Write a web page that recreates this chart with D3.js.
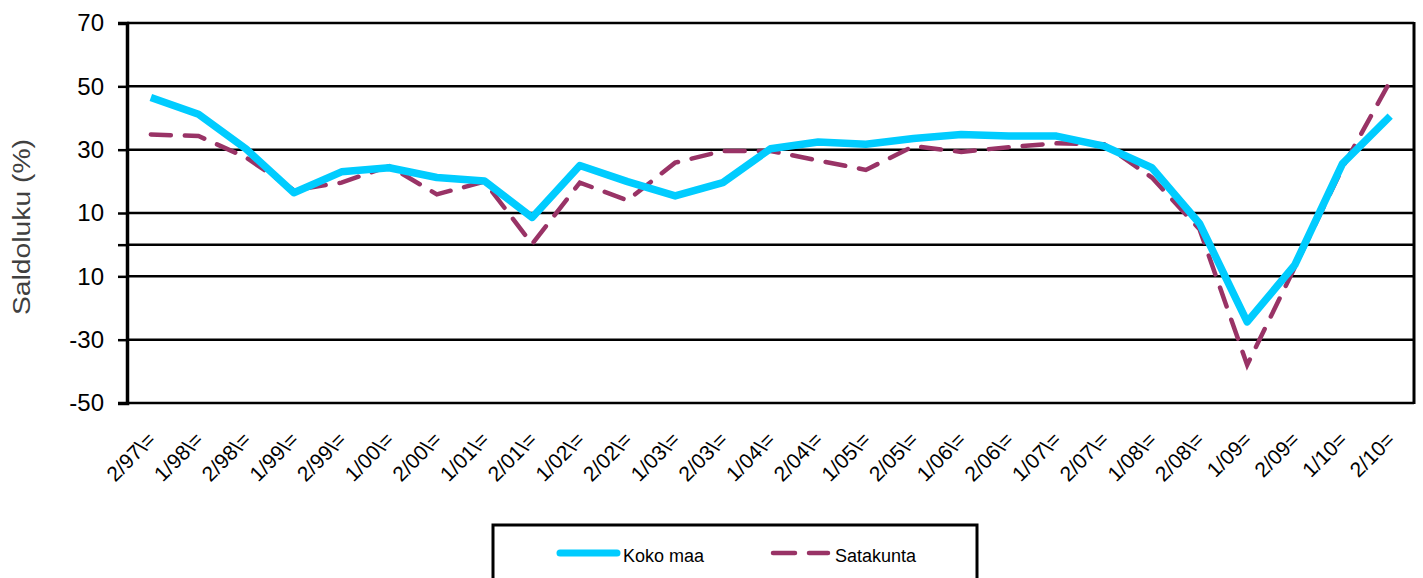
<!DOCTYPE html>
<html>
<head>
<meta charset="utf-8">
<script src="https://cdn.jsdelivr.net/npm/d3@7"></script>
<style>
  body { margin: 0; background: #fff; }
  svg { display: block; font-family: "Liberation Sans", Arial, sans-serif; }
</style>
</head>
<body>
<div id="chart"></div>
<script>
const periods = ['2/97\\=', '1/98\\=', '2/98\\=', '1/99\\=', '2/99\\=', '1/00\\=', '2/00\\=', '1/01\\=', '2/01\\=',
    '1/02\\=', '2/02\\=', '1/03\\=', '2/03\\=', '1/04\\=', '2/04\\=', '1/05\\=', '2/05\\=', '1/06\\=',
    '2/06\\=', '1/07\\=', '2/07\\=', '1/08\\=', '2/08\\=', '1/09=', '2/09=', '1/10=', '2/10='];

const kokoMaa = [46.5, 41.2, 30.2, 16.4, 23, 24.3, 21.2, 20.1, 8.6, 25, 19.9, 15.4, 19.6, 30.3,
    32.4, 31.7, 33.5, 34.8, 34.3, 34.3, 31.1, 24.3, 6.7, -24.4, -6.4, 25.6, 40.6];

const satakunta = [34.8, 34.3, 27.5, 17.2, 19.6, 24.8, 15.9, 19.9, 0.2, 19.6, 14, 25.9, 29.6, 29.6,
    26.6, 23.6, 31.1, 29.3, 30.8, 32, 31.7, 21.2, 4.9, -38, -7.1, 24.3, 51.6];

const yTickValues = [70, 50, 30, 10, 0, -10, -30, -50];
const yTickLabels = ['70', '50', '30', '10', '', '10', '-30', '-50'];

const seriesNames = ['Koko maa', 'Satakunta'];

const width = 1423, height = 578;
const margin = {top: 23, right: 9, bottom: 175, left: 127};

const svg = d3.select('#chart').append('svg')
    .attr('width', width)
    .attr('height', height);

const x = d3.scaleBand()
    .domain(periods)
    .range([margin.left, width - margin.right]);

const y = d3.scaleLinear()
    .domain([-50, 70])
    .range([height - margin.bottom, margin.top]);

// gridlines
svg.append('g')
    .selectAll('line')
    .data(yTickValues)
    .enter()
    .append('line')
    .attr('x1', margin.left)
    .attr('x2', width - margin.right)
    .attr('y1', d => y(d))
    .attr('y2', d => y(d))
    .attr('stroke', '#000')
    .attr('stroke-width', 2.5);

// right border
svg.append('line')
    .attr('x1', width - margin.right)
    .attr('x2', width - margin.right)
    .attr('y1', y(70) - 1)
    .attr('y2', y(-50) + 1)
    .attr('stroke', '#000')
    .attr('stroke-width', 3);

// y axis
const yAxis = svg.append('g')
    .attr('transform', `translate(${margin.left},0)`)
    .call(d3.axisLeft(y)
        .tickValues(yTickValues)
        .tickSize(9)
        .tickPadding(14)
        .tickFormat((d, i) => yTickLabels[i]));
yAxis.select('.domain').attr('stroke-width', 3.5);
yAxis.selectAll('.tick line').attr('stroke-width', 2.5);
yAxis.selectAll('.tick text')
    .attr('font-size', 24)
    .attr('font-family', '"Liberation Sans", Arial, sans-serif')
    .attr('fill', '#000');

// x axis labels
svg.append('g')
    .selectAll('text')
    .data(periods)
    .enter()
    .append('text')
    .attr('transform', d => `translate(${x(d) + x.bandwidth() / 2 + 6},${y(-50) + 38}) rotate(-45)`)
    .attr('text-anchor', 'end')
    .attr('font-size', 21)
    .attr('fill', '#000')
    .text(d => d);

// y title
svg.append('text')
    .attr('transform', `translate(30,227) rotate(-90)`)
    .attr('text-anchor', 'middle')
    .attr('font-size', 23)
    .attr('textLength', 176)
    .attr('lengthAdjust', 'spacingAndGlyphs')
    .attr('fill', '#404040')
    .text('Saldoluku (%)');

const line = d3.line()
    .x((d, i) => x(periods[i]) + x.bandwidth() / 2)
    .y(d => y(d));

svg.append('path')
    .datum(satakunta)
    .attr('fill', 'none')
    .attr('stroke', '#993366')
    .attr('stroke-width', 4.5)
    .attr('stroke-linecap', 'round')
    .attr('stroke-dasharray', '20,14')
    .attr('d', line);

svg.append('path')
    .datum(kokoMaa)
    .attr('fill', 'none')
    .attr('stroke', '#00ccff')
    .attr('stroke-width', 7.5)
    .attr('stroke-linejoin', 'round')
    .attr('d', line);

// legend
const legend = svg.append('g');
legend.append('rect')
    .attr('x', 493)
    .attr('y', 525)
    .attr('width', 484)
    .attr('height', 80)
    .attr('fill', '#fff')
    .attr('stroke', '#000')
    .attr('stroke-width', 3);

legend.append('line')
    .attr('x1', 560).attr('x2', 617)
    .attr('y1', 553).attr('y2', 553)
    .attr('stroke', '#00ccff')
    .attr('stroke-width', 7)
    .attr('stroke-linecap', 'round');
legend.append('text')
    .attr('x', 623).attr('y', 562)
    .attr('font-size', 18)
    .text(seriesNames[0]);

legend.append('line')
    .attr('x1', 773).attr('x2', 828)
    .attr('y1', 553).attr('y2', 553)
    .attr('stroke', '#993366')
    .attr('stroke-width', 4.5)
    .attr('stroke-linecap', 'round')
    .attr('stroke-dasharray', '22,14');
legend.append('text')
    .attr('x', 835).attr('y', 562)
    .attr('font-size', 18)
    .text(seriesNames[1]);
</script>
</body>
</html>
